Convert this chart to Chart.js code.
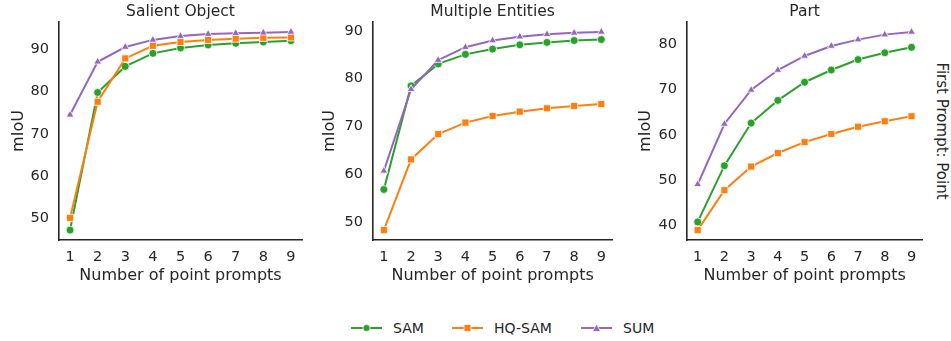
<!DOCTYPE html>
<html>
<head>
<meta charset="utf-8">
<script src="https://cdn.jsdelivr.net/npm/chart.js@4.4.0/dist/chart.umd.min.js"></script>
<style>
  body { margin: 0; background: #fff; width: 951px; height: 341px; position: relative; overflow: hidden;
         font-family: "DejaVu Sans", sans-serif; color: #262626; }
  .panel { position: absolute; top: 0; }
  .side { position: absolute; left: 942px; top: 131px; font-size: 15px; white-space: nowrap;
          transform: translate(-50%, -50%) rotate(90deg); }
  .legend { position: absolute; top: 318px; height: 20px; font-size: 14px; }
  .item { position: absolute; top: 0; display: flex; align-items: center; height: 20px; white-space: nowrap; }
  .item svg { margin-right: 11px; }
</style>
</head>
<body>
<canvas id="c1" class="panel" style="left:0px" width="310" height="290"></canvas>
<canvas id="c2" class="panel" style="left:318px" width="300" height="290"></canvas>
<canvas id="c3" class="panel" style="left:628px" width="300" height="290"></canvas>
<div class="side">First Prompt: Point</div>
<div class="legend">
  <div class="item" style="left:351px">
    <svg width="31" height="10"><line x1="0" y1="5" x2="31" y2="5" stroke="#2ca02c" stroke-width="2"/><circle cx="15.5" cy="5" r="3.6" fill="#2ca02c" stroke="#fff" stroke-width="0.8"/></svg>SAM
  </div>
  <div class="item" style="left:452px">
    <svg width="31" height="10"><line x1="0" y1="5" x2="31" y2="5" stroke="#ff7f0e" stroke-width="2"/><rect x="12" y="1.5" width="7" height="7" fill="#ff7f0e" stroke="#fff" stroke-width="0.8"/></svg>HQ-SAM
  </div>
  <div class="item" style="left:581px">
    <svg width="31" height="10"><line x1="0" y1="5" x2="31" y2="5" stroke="#9467bd" stroke-width="2"/><polygon points="15.5,1 19.5,8.5 11.5,8.5" fill="#9467bd" stroke="#fff" stroke-width="0.8"/></svg>SUM
  </div>
</div>
<script>
const promptCounts = [1, 2, 3, 4, 5, 6, 7, 8, 9];

const salientSam = [47.1, 79.8, 86.0, 89.1, 90.4, 91.1, 91.5, 91.8, 92.1];
const salientHq  = [50.0, 77.6, 87.9, 90.9, 91.8, 92.3, 92.6, 92.8, 92.9];
const salientSum = [74.5, 87.1, 90.6, 92.3, 93.2, 93.7, 93.9, 94.0, 94.2];

const multiSam = [56.8, 78.5, 83.1, 85.1, 86.2, 87.1, 87.6, 88.0, 88.2];
const multiHq  = [48.3, 63.1, 68.4, 70.8, 72.2, 73.1, 73.8, 74.3, 74.7];
const multiSum = [60.7, 77.8, 83.9, 86.6, 88.0, 88.8, 89.3, 89.6, 89.8];

const partSam = [40.8, 53.2, 62.6, 67.6, 71.6, 74.3, 76.6, 78.1, 79.3];
const partHq  = [39.0, 47.8, 53.0, 56.0, 58.4, 60.2, 61.8, 63.0, 64.1];
const partSum = [49.1, 62.4, 69.9, 74.3, 77.4, 79.6, 81.0, 82.1, 82.7];

const textColor = '#262626';
const font = 'DejaVu Sans';

// title centred over the plot area, like matplotlib's ax.set_title
const panelTitle = {
    id: 'panelTitle',
    afterDraw(chart, args, opts) {
        const { ctx, chartArea } = chart;
        ctx.save();
        ctx.fillStyle = textColor;
        ctx.font = '15.5px "DejaVu Sans"';
        ctx.textAlign = 'center';
        ctx.textBaseline = 'middle';
        ctx.fillText(opts.text, (chartArea.left + chartArea.right) / 2, 12);
        ctx.restore();
    },
};

function toPoints(values) {
    return values.map((v, i) => ({ x: promptCounts[i], y: v }));
}

function series(label, values, color, style, radius, order) {
    return {
        label: label,
        data: toPoints(values),
        borderColor: color,
        backgroundColor: color,
        borderWidth: 2,
        pointStyle: style,
        pointRadius: radius,
        pointHoverRadius: radius,
        pointBackgroundColor: color,
        pointBorderColor: '#fff',
        pointBorderWidth: 0.8,
        tension: 0,
        order: order,
    };
}

function makePanel(id, title, sam, hq, sum, yWidth, padRight, labelPad) {
    const all = sam.concat(hq, sum);
    const lo = Math.min(...all), hi = Math.max(...all);
    const margin = (hi - lo) * 0.05;

    new Chart(document.getElementById(id).getContext('2d'), {
        type: 'line',
        data: {
            datasets: [
                series('SAM', sam, '#2ca02c', 'circle', 4, 2),
                series('HQ-SAM', hq, '#ff7f0e', 'rect', 5, 1),
                series('SUM', sum, '#9467bd', 'triangle', 4.5, 0),
            ],
        },
        plugins: [panelTitle],
        options: {
            responsive: false,
            animation: false,
            layout: { padding: { left: 0, right: padRight, top: 22, bottom: 0 } },
            plugins: {
                legend: { display: false },
                tooltip: { enabled: false },
                title: { display: false },
                panelTitle: { text: title },
            },
            scales: {
                x: {
                    type: 'linear',
                    min: 0.6,
                    max: 9.4,
                    grid: { display: false, drawTicks: false },
                    border: { display: true, color: textColor, width: 1.6 },
                    ticks: {
                        stepSize: 1,
                        includeBounds: false,
                        padding: 9,
                        color: textColor,
                        font: { family: font, size: 14.5 },
                    },
                    title: {
                        display: true,
                        text: 'Number of point prompts',
                        color: textColor,
                        font: { family: font, size: 16 },
                        padding: { top: 0, bottom: 5 },
                    },
                    afterFit: (scale) => { scale.height = 50; },
                },
                y: {
                    min: lo - margin,
                    max: hi + margin,
                    grid: { display: false, drawTicks: false },
                    border: { display: true, color: textColor, width: 1.6 },
                    ticks: {
                        stepSize: 10,
                        includeBounds: false,
                        padding: 10,
                        color: textColor,
                        font: { family: font, size: 14.5 },
                    },
                    title: {
                        display: true,
                        text: 'mIoU',
                        color: textColor,
                        font: { family: font, size: 16 },
                        padding: { top: labelPad, bottom: 0 },
                    },
                    afterFit: (scale) => { scale.width = yWidth; },
                },
            },
        },
    });
}

makePanel('c1', 'Salient Object', salientSam, salientHq, salientSum, 59, 8, 9.5);
makePanel('c2', 'Multiple Entities', multiSam, multiHq, multiSum, 55, 4, 2.5);
makePanel('c3', 'Part', partSam, partHq, partSum, 59, 0, 8.5);
</script>
</body>
</html>
